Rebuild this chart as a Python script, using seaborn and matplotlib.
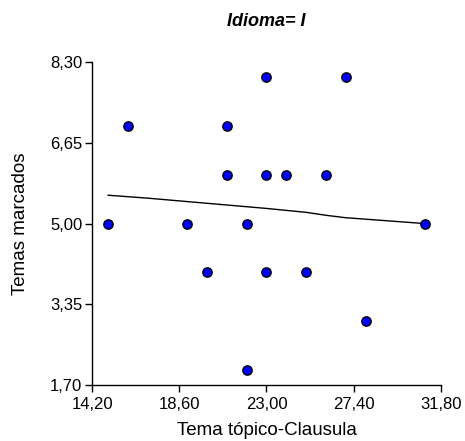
import seaborn as sns
import matplotlib.pyplot as plt
import pandas as pd

# Data
tema_topico = [15, 16, 19, 21, 21, 22, 23, 23, 27, 24, 26, 31, 20, 23, 22, 25, 28]
temas_marcados = [5, 7, 5, 7, 6, 5, 8, 6, 8, 6, 6, 5, 4, 4, 2, 4, 3]

# smoothed trend line
trend_x = [15, 17, 19, 21, 23, 25, 26, 27, 29, 31]
trend_y = [5.58, 5.52, 5.45, 5.38, 5.31, 5.23, 5.17, 5.12, 5.06, 5.00]

x_ticks = [14.20, 18.60, 23.00, 27.40, 31.80]
y_ticks = [1.70, 3.35, 5.00, 6.65, 8.30]

df = pd.DataFrame({'Tema tópico-Clausula': tema_topico, 'Temas marcados': temas_marcados})
trend = pd.DataFrame({'x': trend_x, 'y': trend_y})

sns.set_style('white')
plt.rcParams['font.family'] = ['Liberation Sans', 'DejaVu Sans']
plt.rcParams['text.color'] = 'black'
plt.rcParams['axes.labelcolor'] = 'black'

fig = plt.figure(figsize=(4.65, 4.41), dpi=100)
ax = fig.add_axes([0.198, 0.127, 0.75, 0.732])

sns.lineplot(data=trend, x='x', y='y', color='black', linewidth=1.0, ax=ax)
sns.scatterplot(data=df, x='Tema tópico-Clausula', y='Temas marcados',
                color='#0000ff', edgecolor='black', linewidth=1, s=45, zorder=3, ax=ax)

ax.set_xlim(x_ticks[0], x_ticks[-1])
ax.set_ylim(y_ticks[0], y_ticks[-1])
ax.set_xticks(x_ticks)
ax.set_yticks(y_ticks)
ax.set_xticklabels([f'{v:.2f}'.replace('.', ',') for v in x_ticks])
ax.set_yticklabels([f'{v:.2f}'.replace('.', ',') for v in y_ticks])
ax.tick_params(bottom=True, left=True, direction='out', length=5, width=1,
               colors='black', labelsize=12)
ax.tick_params(axis='x', pad=4)
ax.tick_params(axis='y', pad=2)

for side in ['top', 'right']:
    ax.spines[side].set_visible(False)
for side in ['left', 'bottom']:
    ax.spines[side].set_color('black')
    ax.spines[side].set_linewidth(1)

ax.set_xlabel('Tema tópico-Clausula', fontsize=13.5, labelpad=7)
ax.set_ylabel('Temas marcados', fontsize=13.5, labelpad=15)
fig.text(0.573, 0.952, 'Idioma= I', ha='center', va='center', color='black',
         fontsize=13, fontweight='bold', fontstyle='italic')

fig.savefig('out.png', dpi=100)
